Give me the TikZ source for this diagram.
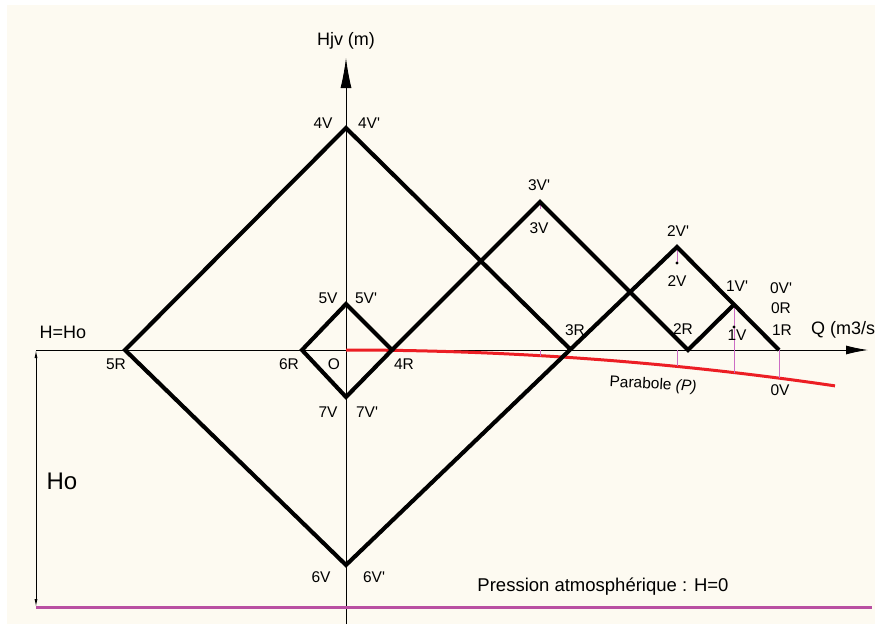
\documentclass[tikz,border=0pt]{standalone}
\usepackage{fontspec}
\setmainfont{Liberation Sans}
\usepackage{xcolor}
\usepackage{tikz}
\usetikzlibrary{arrows.meta, calc}
\definecolor{cream}{HTML}{FDFAF1}
\definecolor{atmo}{HTML}{B94FA2}
\definecolor{tickcol}{HTML}{CC6CC4}
\definecolor{parab}{HTML}{EC1E24}

\begin{document}
\begin{tikzpicture}[x=1pt, y=-1pt,
   axis/.style={line width=0.9pt},
   wave/.style={line width=4.1pt, line join=miter},
   vtick/.style={tickcol, line width=0.8pt},
   lbl/.style={font=\fontsize{15.5}{17}\selectfont, inner sep=0pt},
   big/.style={font=\fontsize{18}{20}\selectfont, inner sep=0pt}]
\fill[white] (0,0) rectangle (875,624);
\fill[cream] (7,5) rectangle (875,624);
\useasboundingbox (0,0) rectangle (875,624);

% Points of the diagram
\coordinate (O) at (346,350);
\coordinate (V4) at (346,128);
\coordinate (R5) at (125,350);
\coordinate (V6) at (346,565);
\coordinate (R3) at (571,350);
\coordinate (V2) at (677,247);
\coordinate (R1) at (779,350);
\coordinate (V5) at (346,304);
\coordinate (R6) at (302,350);
\coordinate (V7) at (346,397);
\coordinate (R4) at (392,350);
\coordinate (V3) at (540,202);
\coordinate (R2) at (688,350);
\coordinate (V1) at (734,304.5);

% Axes
\coordinate (qstart) at (36,350);
\coordinate (qend) at (868,350);
\coordinate (hbot) at (346,624);
\coordinate (htop) at (346,58);
\coordinate (atmoL) at (36,607);
\coordinate (atmoR) at (872,607);
\draw[axis, -{Latex[length=22pt,width=9pt]}] (qstart) -- (qend);
\draw[axis, -{Latex[length=30pt,width=11pt]}] (hbot) -- (htop);
\draw[axis, {Latex[length=8pt,width=3pt]}-{Latex[length=8pt,width=3pt]}] (qstart) -- (atmoL);
\draw[atmo, line width=3pt] (atmoL) -- (atmoR);

% Parabola
\draw[parab, line width=3pt] plot[domain=346:835, samples=50] (\x, {350+1.5*((\x-346)/100)^2});

% Ticks
\coordinate (p3) at (540,355.6);
\coordinate (p2) at (677,366.4);
\coordinate (p1) at (734,372.6);
\coordinate (p0) at (779,378.1);
\coordinate (d2) at (677,263);
\coordinate (d1) at (734,327);
\draw[vtick] (V3) -- (540,209);
\draw[vtick] (540,350) -- (p3);
\draw[vtick] (V2) -- (d2);
\draw[vtick] (677,350) -- (p2);
\draw[vtick] (V1) -- (p1);
\draw[vtick] (R1) -- (p0);
\fill (d2) circle (1.6);
\fill (d1) circle (1.6);

% Characteristic lines
\draw[wave] (R3) -- (V4) -- (R5) -- (V6) -- (V2) -- (R1);
\draw[wave] (V5) -- (R6) -- (V7) -- (R4) -- cycle;
\draw[wave] (R4) -- (V3) -- (R2) -- (V1);

% Point labels
\foreach \n/\x/\y/\t in {l4v/323/123/4V, l4vp/369/123/4V\textquotesingle, l5v/328/298/5V, l5vp/366/298/5V\textquotesingle,
   l6r/289/364/6R, lo/334/364/O, l4r/404/364/4R, l5r/116/364/5R,
   l7v/328/412/7V, l7vp/367/412/7V\textquotesingle, l6v/321/577/6V, l6vp/374/577/6V\textquotesingle,
   l3vp/539/185/3V\textquotesingle, l3v/539/228/3V, l2vp/678/231/2V\textquotesingle, l2v/677/281/2V,
   l3r/575/330/3R, l2r/683/329/2R, l1vp/737/286/1V\textquotesingle, l1v/737/335/1V,
   l0vp/781/288/0V\textquotesingle, l0r/781/308/0R, l1r/782/330/1R, l0v/780/390/0V} {
   \node[lbl] (\n) at (\x,\y) {\t};
}

% Axis labels
\node[big] (hjv) at (346,41) {Hjv (m)};
\node[big] (hho) at (63,332) {H=Ho};
\node[big, anchor=west] (qlab) at (811,330) {Q (m3/s};
\node[font=\fontsize{24}{26}\selectfont, inner sep=0pt] (ho) at (62,481) {Ho};
\node[font=\fontsize{18.5}{20}\selectfont, inner sep=0pt] (patm) at (603,587) {Pression atmosphérique : H=0};
\node[font=\fontsize{15.5}{17}\selectfont, inner sep=0pt, rotate=-3] (parlab) at (653,385) {Parabole \textit{(P)}};
\end{tikzpicture}
\end{document}
